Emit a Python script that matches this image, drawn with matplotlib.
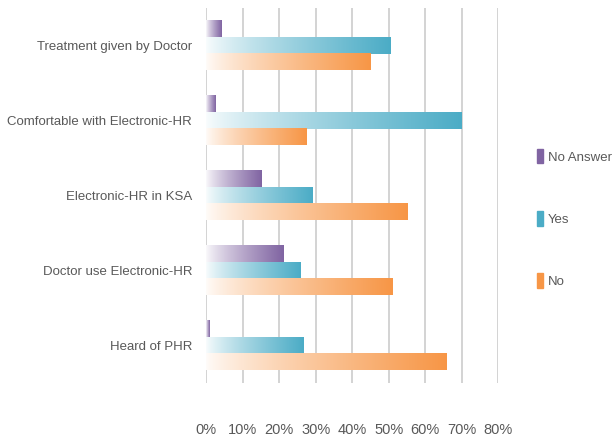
import matplotlib
matplotlib.use("Agg")
import matplotlib.pyplot as plt
import matplotlib.colors as mcolors
from matplotlib.ticker import PercentFormatter
import numpy as np

# survey answers, in percent
categories = ["Heard of PHR", "Doctor use Electronic-HR", "Electronic-HR in KSA",
              "Comfortable with Electronic-HR", "Treatment given by Doctor"]
no_answer = [1.0, 21.2, 15.2, 2.5, 4.3]
yes = [26.7, 26.0, 29.2, 70.0, 50.4]
no = [65.8, 51.0, 55.2, 27.4, 45.0]

series = [("No Answer", no_answer, "#8064A2"),
          ("Yes", yes, "#4BACC6"),
          ("No", no, "#F79646")]

plt.rcParams["font.family"] = ["Liberation Sans", "DejaVu Sans"]
text_color = "#595959"

fig = plt.figure(figsize=(6.14, 4.47), dpi=100)
ax = fig.add_axes([0.3355, 0.143, 0.476, 0.839])

y = np.arange(len(categories))
h = 0.22
offsets = [h, 0, -h]


def gradient_bar(ax, x0, x1, yc, color):
    # fade from white on the left to the full colour on the right
    rgb = np.array(mcolors.to_rgb(color))
    t = np.linspace(0, 1, 256)
    f = 0.03 + 0.97 * t ** 0.8
    img = (1 - f)[:, None] * np.ones(3) + f[:, None] * rgb
    ax.imshow(img[None, :, :], extent=(x0, x1, yc - h / 2, yc + h / 2),
              aspect="auto", interpolation="bilinear", zorder=3)


for (name, vals, color), off in zip(series, offsets):
    bars = ax.barh(y + off, vals, height=h, color="none", label=name)
    for b, v in zip(bars, vals):
        gradient_bar(ax, 0, v, b.get_y() + h / 2, color)

ax.set_xlim(0, 80)
ax.set_ylim(-0.5, len(categories) - 0.5)
ax.set_xticks(np.arange(0, 81, 10))
ax.xaxis.set_major_formatter(PercentFormatter(decimals=0))
ax.set_yticks(y)
ax.set_yticklabels(categories, fontsize=9.5)
ax.grid(axis="x", color="#d0d0d0", linewidth=1.3, zorder=0)
ax.set_axisbelow(True)
for s in ax.spines.values():
    s.set_visible(False)
ax.tick_params(axis="both", length=0, colors=text_color)
ax.tick_params(axis="x", pad=29, labelsize=10.5)
ax.tick_params(axis="y", pad=10)

handles = [plt.Rectangle((0, 0), 1, 1, color=c) for _, _, c in series]
fig.legend(handles, [s[0] for s in series], loc="upper left",
           bbox_to_anchor=(0.855, 0.693), frameon=False, fontsize=9.5,
           labelcolor=text_color, handlelength=0.5, handleheight=1.3,
           handletextpad=0.35, labelspacing=3.6)

fig.savefig("out.png", dpi=100)
